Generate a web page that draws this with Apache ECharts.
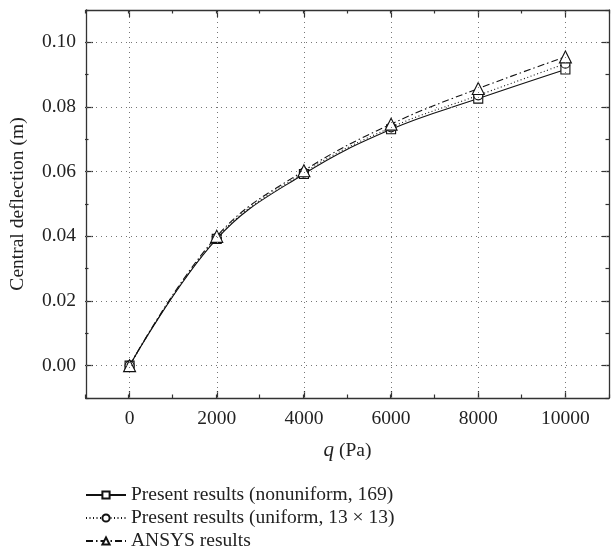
<!DOCTYPE html>
<html>
<head>
<meta charset="utf-8">
<script src="https://cdn.jsdelivr.net/npm/echarts@6/dist/echarts.min.js"></script>
<style>
html,body{margin:0;padding:0;background:#fff;}
#c{width:611px;height:558px;}
</style>
</head>
<body>
<div id="c"></div>
<script>
const qValues = [0, 2000, 4000, 6000, 8000, 10000];
const nonuniform = [0, 0.0392, 0.0593, 0.0731, 0.0826, 0.0916];
const uniform = [0, 0.0395, 0.0597, 0.0737, 0.0836, 0.0934];
const ansys = [0, 0.0400, 0.0603, 0.0747, 0.0857, 0.0955];
const xTickLabels = [0, 2000, 4000, 6000, 8000, 10000];
const yTickLabels = [0, 0.02, 0.04, 0.06, 0.08, 0.10];
const seriesNames = ['Present results (nonuniform, 169)', 'Present results (uniform, 13 × 13)', 'ANSYS results'];

const FONT = 'Liberation Serif';
const AX = '#333';
const FS = 19.5;
const gridRect = {left: 85, right: 2, top: 10, bottom: 160};
const X_MIN = -1000, X_MAX = 11000, Y_MIN = -0.01, Y_MAX = 0.11;

function pairs(ys) { return qValues.map((q, i) => [q, ys[i]]); }

const majorX = (pos, labels, gi) => ({
  type: 'value', gridIndex: gi, position: pos, min: X_MIN, max: X_MAX, interval: 1000,
  axisLine: {show: true, onZero: false, lineStyle: {color: AX, width: 1.3}},
  axisTick: {show: true, inside: true, length: 7, customValues: xTickLabels, lineStyle: {color: AX, width: 1.2}},
  axisLabel: labels ? {show: true, customValues: xTickLabels, margin: 11, color: '#222', fontFamily: FONT, fontSize: FS,
    formatter: v => String(v)} : {show: false},
  splitLine: {show: false}
});
const minorX = (pos, gi) => ({
  type: 'value', gridIndex: gi, position: pos, min: X_MIN, max: X_MAX, interval: 1000,
  axisLine: {show: false, onZero: false},
  axisTick: {show: true, inside: true, length: 3.5, lineStyle: {color: AX, width: 1.2}},
  axisLabel: {show: false}, splitLine: {show: false}
});
const majorY = (pos, labels, gi) => ({
  type: 'value', gridIndex: gi, position: pos, min: Y_MIN, max: Y_MAX, interval: 0.01,
  axisLine: {show: true, onZero: false, lineStyle: {color: AX, width: 1.3}},
  axisTick: {show: true, inside: true, length: 7, customValues: yTickLabels, lineStyle: {color: AX, width: 1.2}},
  axisLabel: labels ? {show: true, customValues: yTickLabels, margin: 10, color: '#222', fontFamily: FONT, fontSize: FS,
    formatter: v => v.toFixed(2)} : {show: false},
  splitLine: {show: false}
});
const minorY = (pos, gi) => ({
  type: 'value', gridIndex: gi, position: pos, min: Y_MIN, max: Y_MAX, interval: 0.01,
  axisLine: {show: false, onZero: false},
  axisTick: {show: true, inside: true, length: 3.5, lineStyle: {color: AX, width: 1.2}},
  axisLabel: {show: false}, splitLine: {show: false}
});

const xb = majorX('bottom', true, 0);
xb.name = '{i|q} (Pa)';
xb.nameLocation = 'middle';
xb.nameGap = 42;
xb.nameTextStyle = {fontFamily: FONT, fontSize: FS, color: '#222',
  rich: {i: {fontFamily: FONT, fontStyle: 'italic', fontSize: 21, color: '#222'}}};
const yl = majorY('left', true, 0);
yl.name = 'Central deflection (m)';
yl.nameLocation = 'middle';
yl.nameGap = 58;
yl.nameTextStyle = {fontFamily: FONT, fontSize: FS, color: '#222'};

const gridLineStyle = {color: '#777', type: [1, 4], width: 1};
const gridSeries = {
  name: 'grid', type: 'line', xAxisIndex: 0, yAxisIndex: 0, data: [], silent: true, z: 1,
  markLine: {
    silent: true, symbol: ['none', 'none'], label: {show: false}, animation: false,
    lineStyle: gridLineStyle, emphasis: {disabled: true},
    data: xTickLabels.map(v => ({xAxis: v})).concat(yTickLabels.map(v => ({yAxis: v})))
  }
};

const chart = echarts.init(document.getElementById('c'));
const baseSeries = (name, data, symbol, size, ltype) => ({
  name, type: 'line', xAxisIndex: 0, yAxisIndex: 0, data: pairs(data), z: 3,
  smooth: 0.4, symbol, symbolSize: size, showSymbol: true,
  lineStyle: {color: '#111', width: 1.1, type: ltype},
  itemStyle: {color: '#fff', borderColor: '#111', borderWidth: 1.1},
  emphasis: {disabled: true}, animation: false
});
chart.setOption({
  animation: false,
  grid: [Object.assign({}, gridRect), Object.assign({}, gridRect)],
  xAxis: [xb, majorX('top', false, 0), minorX('bottom', 1), minorX('top', 1)],
  yAxis: [yl, majorY('right', false, 0), minorY('left', 1), minorY('right', 1)],
  legend: {
    orient: 'vertical', left: 85, top: 485, padding: 0, itemWidth: 40, itemHeight: 9, itemGap: 3,
    textStyle: {fontFamily: FONT, fontSize: FS, color: '#222', lineHeight: 19},
    data: seriesNames
  },
  series: [
    gridSeries,
    baseSeries(seriesNames[0], nonuniform, 'rect', 9, 'solid'),
    baseSeries(seriesNames[1], uniform, 'circle', 9, [1, 2.5]),
    baseSeries(seriesNames[2], ansys, 'triangle', 12, [7, 3, 1.5, 3])
  ]
});
</script>
</body>
</html>
